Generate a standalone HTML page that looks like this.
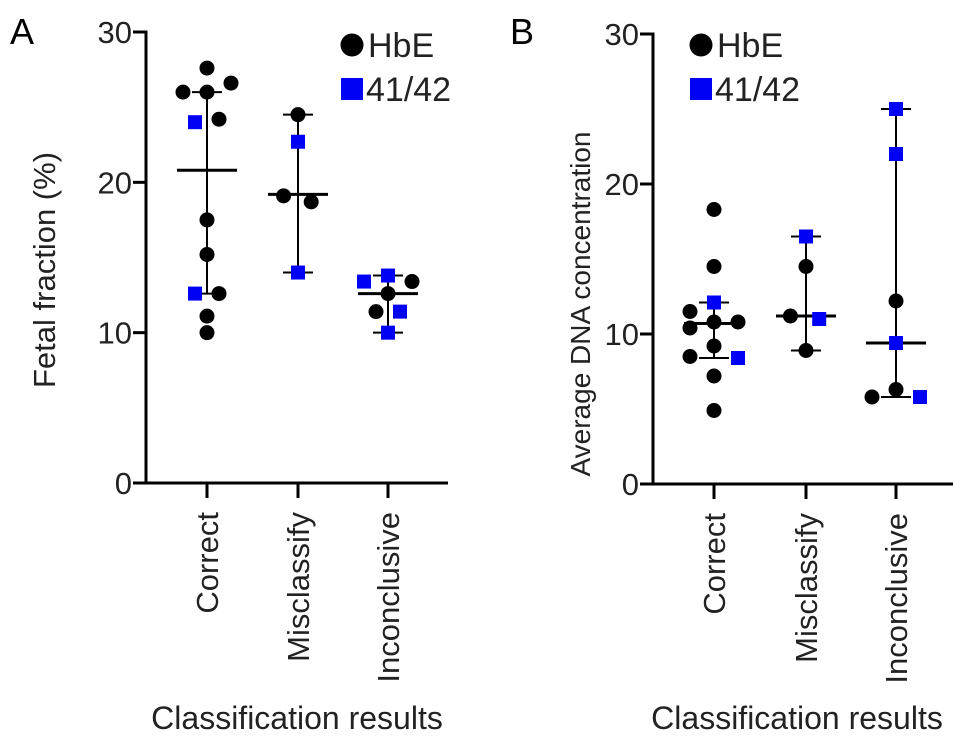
<!DOCTYPE html>
<html><head><meta charset="utf-8"><style>
body{margin:0;background:#fff}
svg{display:block;font-family:"Liberation Sans",Arial,sans-serif}
</style></head><body>
<svg id="chart" width="969" height="743" viewBox="0 0 969 743"></svg>
<script>
const categories=["Correct","Misclassify","Inconclusive"];
const yTicks=[0,10,20,30];
// Panel A values
const aVals=[[27.6,26.0,26.0,26.6,24.0,24.2,17.5,15.2,12.6,12.6,11.1,10.0],[24.5,22.7,19.1,18.7,14.0],[13.4,13.8,13.4,12.6,11.4,11.4,10.0]];
const aType=[["c","c","c","c","s","c","c","c","s","c","c","c"],["c","s","c","c","s"],["s","s","c","c","c","s","s"]];
const aJit=[[0,-1,0,1,-0.5,0.5,0,0,-0.5,0.5,0,0],[0,0,-0.6,0.55,0],[-1,0,1,0,-0.5,0.5,0]];
const aCenter=[20.8,19.2,12.6];
const aLow=[12.6,14.0,10.0];
const aHigh=[26.0,24.5,13.8];
// Panel B values
const bVals=[[18.3,14.5,12.1,11.5,10.8,10.8,10.4,9.2,8.5,8.4,7.2,4.9],[16.5,14.5,11.2,11.0,8.9],[25.0,22.0,12.2,9.4,6.3,5.8,5.8]];
const bType=[["c","c","s","c","c","c","c","c","c","s","c","c"],["s","c","c","s","c"],["s","s","c","s","c","c","s"]];
const bJit=[[0,0,0,-1,0,1,-1,0,-1,1,0,0],[0,0,-0.65,0.55,0],[0,0,0,0,0,-1,1]];
const bCenter=[10.7,11.2,9.4];
const bLow=[8.4,8.9,5.8];
const bHigh=[12.1,16.5,25.0];

const NS="http://www.w3.org/2000/svg";
const svg=document.getElementById('chart');
function mk(tag,attrs,parent,text){const e=document.createElementNS(NS,tag);for(const k in attrs)e.setAttribute(k,attrs[k]);if(text!==undefined)e.textContent=text;(parent||svg).appendChild(e);return e;}

function panel(o){
  const g=mk('g',{});
  
  
  const y=v=>o.y0-(v/30)*(o.y0-o.y30);
  const x=i=>o.cx[i];
  const lbl=mk('text',{x:o.lx,y:44,'font-size':36},g,o.letter);
  
  
  const ya=mk('line',{x1:o.ax,y1:y(30)-1.5,x2:o.ax,y2:o.y0+1.5,stroke:'#000','stroke-width':3},g);
  
  
  const xa=mk('line',{x1:o.ax-13,y1:o.y0,x2:o.xend,y2:o.y0,stroke:'#000','stroke-width':3},g);
  
  
  yTicks.forEach(t=>{
    mk('line',{x1:o.ax-13,y1:y(t),x2:o.ax,y2:y(t),stroke:'#000','stroke-width':3},g);
    const tl=mk('text',{x:o.ax-14,y:y(t)+11,'font-size':31,'text-anchor':'end',fill:'#222'},g,String(t));
    
    
  });
  const yt=mk('text',{x:0,y:0,'font-size':o.ytfs,'text-anchor':'middle',fill:'#222',transform:`translate(${o.ytx},${o.yty}) rotate(-90)`},g,o.ytitle);
  
  
  categories.forEach((c,i)=>{
    mk('line',{x1:x(i),y1:o.y0,x2:x(i),y2:o.y0+15,stroke:'#000','stroke-width':3},g);
    const t=mk('text',{x:0,y:0,'font-size':31,'text-anchor':'end',fill:'#222',transform:`translate(${x(i)+11},${o.y0+29}) rotate(-90)`},g,c);
    
    
  });
  const xt=mk('text',{x:o.xtx,y:729,'font-size':32,'text-anchor':'middle',fill:'#222'},g,'Classification results');
  
  
  categories.forEach((c,i)=>{
    const eb=mk('g',{},g);
    
    
    mk('line',{x1:x(i),y1:y(o.high[i]),x2:x(i),y2:y(o.low[i]),stroke:'#000','stroke-width':2},eb);
    mk('line',{x1:x(i)-15,y1:y(o.high[i]),x2:x(i)+15,y2:y(o.high[i]),stroke:'#000','stroke-width':2},eb);
    mk('line',{x1:x(i)-15,y1:y(o.low[i]),x2:x(i)+15,y2:y(o.low[i]),stroke:'#000','stroke-width':2},eb);
    mk('line',{x1:x(i)-30,y1:y(o.center[i]),x2:x(i)+30,y2:y(o.center[i]),stroke:'#000','stroke-width':3},eb);
  });
  o.vals.forEach((arr,i)=>arr.forEach((v,j)=>{
    const px=x(i)+o.jit[i][j]*24, py=y(v);
    let m;
    if(o.type[i][j]==='c'){m=mk('circle',{cx:px,cy:py,r:7.5,fill:'#000'},g);}
    else{m=mk('rect',{x:px-7,y:py-7,width:14,height:14,fill:'#0000f5'},g);}
    
    
  }));
  const l1=mk('g',{},g);
  
  
  mk('circle',{cx:o.legx,cy:45,r:11.5,fill:'#000'},l1);
  mk('text',{x:o.legx+16,y:57,'font-size':34,fill:'#222'},l1,'HbE');
  const l2=mk('g',{},g);
  
  
  mk('rect',{x:o.legx-11,y:78,width:22,height:22,fill:'#0000f5'},l2);
  mk('text',{x:o.legx+14,y:101,'font-size':34,fill:'#222'},l2,'41/42');
}
panel({name:'panel-a',letter:'A',lx:10,ax:146,y0:483,y30:32,xend:448,cx:[207,298,388],ytitle:'Fetal fraction (%)',ytfs:31,ytx:55,yty:270,xtx:297,
  vals:aVals,type:aType,jit:aJit,center:aCenter,low:aLow,high:aHigh,legx:352});
panel({name:'panel-b',letter:'B',lx:510,ax:653,y0:484,y30:34,xend:953,cx:[714,806,896],ytitle:'Average DNA concentration',ytfs:28,ytx:590,yty:304,xtx:797,
  vals:bVals,type:bType,jit:bJit,center:bCenter,low:bLow,high:bHigh,legx:701});
</script>
</body></html>
